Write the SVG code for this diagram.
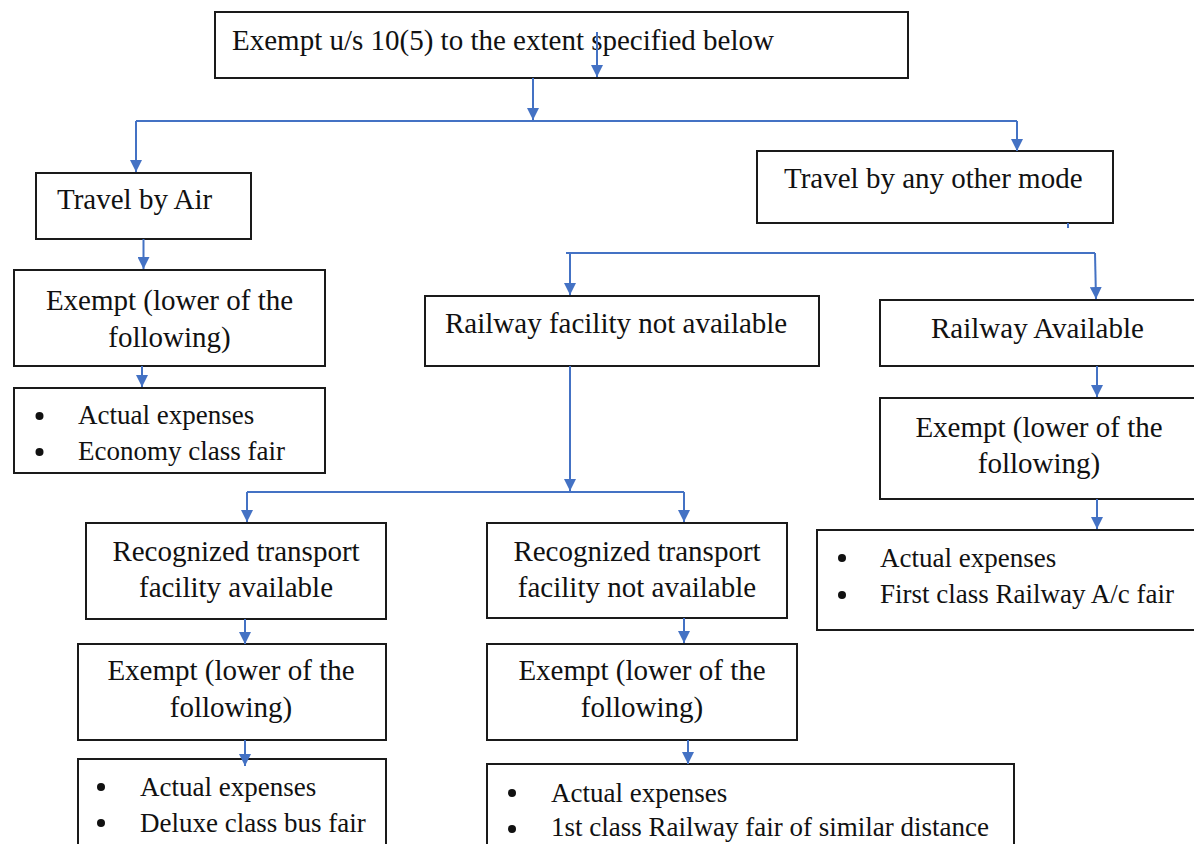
<svg xmlns="http://www.w3.org/2000/svg" width="1194" height="844" viewBox="0 0 1194 844">
<style>
.box{fill:#fff;stroke:#1a1a1a;stroke-width:2}
.t{font-family:"Liberation Serif","Times New Roman",serif;font-size:29px;fill:#111}
.b{font-family:"Liberation Serif","Times New Roman",serif;font-size:27px;fill:#111}
.c{text-anchor:middle}
.con{stroke:#4472C4;stroke-width:2;fill:none}
.arr{marker-end:url(#ah)}
.dot{fill:#111}
</style>
<defs>
<marker id="ah" markerUnits="userSpaceOnUse" markerWidth="12" markerHeight="12" refX="12" refY="6" orient="auto">
<path d="M0,0 L12,6 L0,12 z" fill="#4472C4"/>
</marker>
</defs>
<rect width="1194" height="844" fill="#fff"/>
<g id="n-top"><rect class="box" x="215" y="12" width="693" height="66"/><text class="t" x="232" y="50">Exempt u/s 10(5) to the extent specified below</text></g>
<g id="n-air"><rect class="box" x="36" y="173" width="215" height="66"/><text class="t" x="57" y="209">Travel by Air</text></g>
<g id="n-other"><rect class="box" x="757" y="151" width="356" height="72"/><text class="t" x="784" y="188">Travel by any other mode</text></g>
<g id="n-exemptL"><rect class="box" x="14" y="270" width="311" height="96"/><text class="t c" x="169.5" y="310">Exempt (lower of the</text><text class="t c" x="169.5" y="347">following)</text></g>
<g id="n-bulletL"><rect class="box" x="14" y="388" width="311" height="85"/><circle class="dot" cx="39.5" cy="416" r="4"/><circle class="dot" cx="39.5" cy="452" r="4"/><text class="b" x="78" y="424">Actual expenses</text><text class="b" x="78" y="460">Economy class fair</text></g>
<g id="n-railNA"><rect class="box" x="425" y="296" width="394" height="70"/><text class="t" x="445" y="333">Railway facility not available</text></g>
<g id="n-railA"><rect class="box" x="880" y="300" width="320" height="66"/><text class="t" x="931" y="338">Railway Available</text></g>
<g id="n-exemptR"><rect class="box" x="880" y="398" width="320" height="101"/><text class="t c" x="1039" y="437">Exempt (lower of the</text><text class="t c" x="1039" y="473">following)</text></g>
<g id="n-bulletR"><rect class="box" x="817" y="530" width="383" height="100"/><circle class="dot" cx="842" cy="558" r="4"/><circle class="dot" cx="842" cy="595" r="4"/><text class="b" x="880" y="567">Actual expenses</text><text class="b" x="880" y="603">First class Railway A/c fair</text></g>
<g id="n-rtfa"><rect class="box" x="86" y="523" width="300" height="96"/><text class="t c" x="236" y="561">Recognized transport</text><text class="t c" x="236" y="597">facility available</text></g>
<g id="n-exemptRT"><rect class="box" x="78" y="644" width="308" height="96"/><text class="t c" x="231" y="680">Exempt (lower of the</text><text class="t c" x="231" y="717">following)</text></g>
<g id="n-bulletRT"><rect class="box" x="78" y="759" width="308" height="95"/><circle class="dot" cx="101" cy="787" r="4"/><circle class="dot" cx="101" cy="823" r="4"/><text class="b" x="140" y="796">Actual expenses</text><text class="b" x="140" y="832">Deluxe class bus fair</text></g>
<g id="n-rtfna"><rect class="box" x="487" y="523" width="300" height="95"/><text class="t c" x="637" y="561">Recognized transport</text><text class="t c" x="637" y="597">facility not available</text></g>
<g id="n-exemptRTN"><rect class="box" x="487" y="644" width="310" height="96"/><text class="t c" x="642" y="680">Exempt (lower of the</text><text class="t c" x="642" y="717">following)</text></g>
<g id="n-bulletRTN"><rect class="box" x="487" y="764" width="527" height="90"/><circle class="dot" cx="512" cy="793" r="4"/><circle class="dot" cx="512" cy="829" r="4"/><text class="b" x="551" y="802">Actual expenses</text><text class="b" x="551" y="836">1st class Railway fair of similar distance</text></g>
<g id="connectors">
<path class="con arr" d="M597,32 L597,77"/>
<path class="con arr" d="M533,78 L533,120"/>
<path class="con" d="M136,121 L1017,121"/>
<path class="con arr" d="M136,121 L136,172"/>
<path class="con arr" d="M1017,121 L1017,151"/>
<path class="con arr" d="M143.5,239 L143.5,269"/>
<path class="con" d="M1068,223 L1068,228"/>
<path class="con" d="M566,253 L1095,253"/>
<path class="con arr" d="M570,253 L570,295"/>
<path class="con arr" d="M1095,253 L1096,299"/>
<path class="con arr" d="M570,366 L570,491"/>
<path class="con" d="M247,492 L684,492"/>
<path class="con arr" d="M247,492 L247,522"/>
<path class="con arr" d="M684,492 L684,522"/>
<path class="con arr" d="M142,366 L142,387"/>
<path class="con arr" d="M1097,366 L1097,397"/>
<path class="con arr" d="M1097,499 L1097,529"/>
<path class="con arr" d="M245,619 L245,644"/>
<path class="con arr" d="M245,740 L245,766"/>
<path class="con arr" d="M684,618 L684,643"/>
<path class="con arr" d="M688,740 L688,764"/>
</g>
</svg>
